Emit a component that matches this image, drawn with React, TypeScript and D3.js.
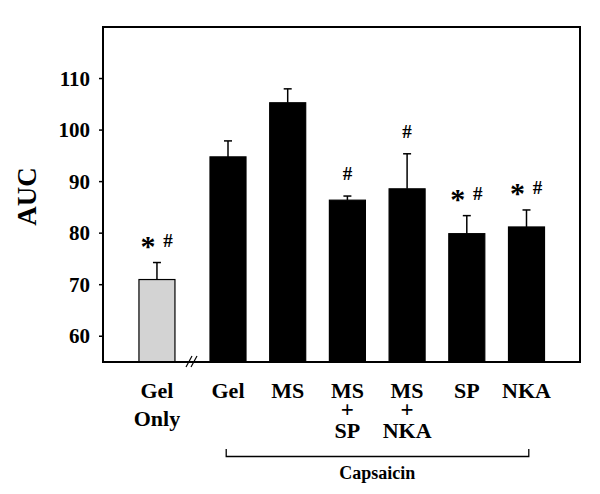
import React from "react";
import * as d3 from "d3";

const categories: string[][] = [["Gel", "Only"], ["Gel"], ["MS"], ["MS", "+", "SP"], ["MS", "+", "NKA"], ["SP"], ["NKA"]];
const slots = [-1.19, 0, 1, 2, 3, 4, 5];
const means = [71.0, 94.8, 105.3, 86.4, 88.6, 79.9, 81.2];
const errors = [3.3, 3.1, 2.7, 0.8, 6.8, 3.5, 3.3];
const stars = [true, false, false, false, false, true, true];
const hashes = [true, false, false, true, true, true, true];
const yTicks = [60, 70, 80, 90, 100, 110];
const yLabel = "AUC";
const groupLabel = "Capsaicin";

const W = 600, H = 494;
const left = 103, right = 580, top = 27, bottom = 362;
const font = "'Liberation Serif', 'Times New Roman', serif";

export default function App() {
  const y = d3.scaleLinear().domain([55, 120]).range([bottom, top]);
  const x = d3.scaleLinear().domain([0, 5]).range([228, 526.5]);
  const bw = 36;
  return (
    <svg width={W} height={H} style={{ position: "absolute", left: 0, top: 0, background: "#fff" }}
      fontFamily={font} fontWeight="bold">
      <rect x={0} y={0} width={W} height={H} fill="#fff" />
      {/* bars */}
      {means.map((m, i) => {
        const cx = x(slots[i]);
        const et = y(m + errors[i]);
        return (
          <g key={i}>
            <line x1={cx} x2={cx} y1={y(m)} y2={et} stroke="#000" strokeWidth={1.5} />
            <line x1={cx - 4} x2={cx + 4} y1={et} y2={et} stroke="#000" strokeWidth={1.5} />
            <rect x={cx - bw / 2} y={y(m)} width={bw} height={bottom - y(m)}
              fill={i === 0 ? "#d3d3d3" : "#000"} stroke="#000" strokeWidth={1.2} />
          </g>
        );
      })}
      {/* frame */}
      <rect x={left} y={top} width={right - left} height={bottom - top} fill="none" stroke="#000" strokeWidth={2} />
      {/* axis break */}
      <line x1={186} x2={192} y1={367} y2={356} stroke="#000" strokeWidth={1.2} />
      <line x1={191} x2={197} y1={367} y2={356} stroke="#000" strokeWidth={1.2} />
      {/* y ticks */}
      {yTicks.map((t) => (
        <g key={t}>
          <line x1={left - 4} x2={left} y1={y(t)} y2={y(t)} stroke="#000" strokeWidth={1.5} />
          <text x={90} y={y(t) + 7} textAnchor="end" fontSize={21}>{t}</text>
        </g>
      ))}
      <text transform={`translate(36,${(top + bottom) / 2 + 2}) rotate(-90)`} textAnchor="middle" fontSize={27}>{yLabel}</text>
      {/* annotations */}
      {means.map((m, i) => {
        const cx = x(slots[i]);
        const base = y(m + errors[i]) - 16;
        const both = stars[i] && hashes[i];
        return (
          <g key={"a" + i}>
            {stars[i] && <text x={both ? cx - 9 : cx} y={base + 9} textAnchor="middle" fontSize={30}>*</text>}
            {hashes[i] && <text x={both ? cx + 11 : cx} y={base} textAnchor="middle" fontSize={19}>#</text>}
          </g>
        );
      })}
      {/* category labels */}
      {categories.map((lines, i) => {
        const cx = x(slots[i]);
        return lines.map((l, j) => {
          let yy = 397.5;
          if (lines.length === 2) yy = 397.5 + j * 28;
          else if (j === 1) yy = 417;
          else if (j === 2) yy = 438;
          return (
            <text key={"c" + i + "-" + j} x={cx} y={yy} textAnchor="middle" fontSize={l === "+" ? 23 : 22}>{l}</text>
          );
        });
      })}
      {/* group bracket */}
      <path d={`M${x(-0.03)},449 V456.5 H${x(5.03) + 0.5} V449`} fill="none" stroke="#000" strokeWidth={1.3} />
      <text x={(x(0) + x(5)) / 2} y={479} textAnchor="middle" fontSize={18}>{groupLabel}</text>
    </svg>
  );
}
